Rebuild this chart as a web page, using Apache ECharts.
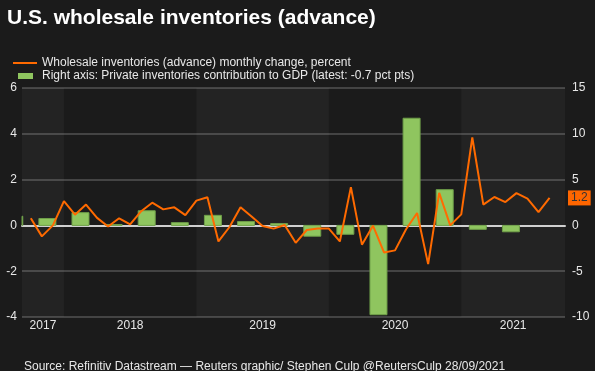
<!DOCTYPE html>
<html>
<head>
<meta charset="utf-8">
<script src="https://cdn.jsdelivr.net/npm/echarts@6/dist/echarts.min.js"></script>
<style>
html,body{margin:0;padding:0;background:#1b1b1b;}
#c{width:595px;height:371px;}
</style>
</head>
<body>
<div id="c"></div>
<script>
// ---- data ----
const months = [
  '2017-09','2017-10','2017-11','2017-12',
  '2018-01','2018-02','2018-03','2018-04','2018-05','2018-06','2018-07','2018-08','2018-09','2018-10','2018-11','2018-12',
  '2019-01','2019-02','2019-03','2019-04','2019-05','2019-06','2019-07','2019-08','2019-09','2019-10','2019-11','2019-12',
  '2020-01','2020-02','2020-03','2020-04','2020-05','2020-06','2020-07','2020-08','2020-09','2020-10','2020-11','2020-12',
  '2021-01','2021-02','2021-03','2021-04','2021-05','2021-06','2021-07','2021-08'
];
const wholesaleChange = [
  0.31, -0.48, 0.00, 1.06,
  0.47, 0.91, 0.33, -0.05, 0.31, 0.04, 0.62, 0.99, 0.70, 0.79, 0.45, 1.08,
  1.23, -0.70, -0.07, 0.79, 0.39, -0.03, -0.14, 0.02, -0.76, -0.20, -0.14, -0.14,
  -0.70, 1.67, -0.84, -0.01, -1.18, -1.09, -0.17, 0.54, -1.69, 1.42, 0.00, 0.48,
  3.84, 0.91, 1.24, 1.02, 1.41, 1.17, 0.58, 1.20
];
const quarters = [
  '2017Q3','2017Q4','2018Q1','2018Q2','2018Q3','2018Q4','2019Q1','2019Q2',
  '2019Q3','2019Q4','2020Q1','2020Q2','2020Q3','2020Q4','2021Q1','2021Q2'
];
const gdpContribution = [
  1.0, 0.75, 1.39, 0.1, 1.6, 0.3, 1.1, 0.42,
  0.2, -1.18, -0.97, -9.75, 11.7, 3.9, -0.43, -0.7
];
const years = ['2017','2018','2019','2020','2021'];
const leftTicks = {min: -4, max: 6, interval: 2};
const rightTicks = {min: -10, max: 15, interval: 5};

// ---- helpers: month coordinate (months since Jan 1 2017) ----
function monthEnd(ym){ const [y,m] = ym.split('-').map(Number); return (y-2017)*12 + m; }
function quarterMid(q){ const y = +q.slice(0,4), n = +q.slice(5); return (y-2017)*12 + (n-1)*3 + 1.5; }
function yearStart(y){ return (+y-2017)*12; }

const xMin = 8.2, xMax = 57.4;
const BAR_W = 17;

const lineData = months.map((m,i)=>[monthEnd(m), wholesaleChange[i]]);
const barData = quarters.map((q,i)=>[quarterMid(q), gdpContribution[i]]);

const bands = years.map((y,i)=>{
  const s = Math.max(yearStart(y), xMin);
  const e = Math.min(yearStart(y)+12, xMax);
  return [
    {name: y, xAxis: s, itemStyle: {color: i%2===0 ? 'rgba(255,255,255,0.035)' : 'rgba(0,0,0,0)'}},
    {xAxis: e}
  ];
});

const txt = '#e8e8e8';
const font = 'Liberation Sans, Arial, sans-serif';
const LINE_NAME = 'Wholesale inventories (advance) monthly change, percent';
const BAR_NAME = 'Right axis: Private inventories contribution to GDP (latest: -0.7 pct pts)';

const chart = echarts.init(document.getElementById('c'), null, {renderer:'canvas'});
chart.setOption({
  backgroundColor: '#1b1b1b',
  animation: false,
  textStyle: {fontFamily: font},
  title: [{
    text: 'U.S. wholesale inventories (advance)',
    left: 7, top: 8, padding: 0,
    textStyle: {color: '#ffffff', fontSize: 21, fontWeight: 'bold', fontFamily: font}
  },{
    text: 'Source: Refinitiv Datastream — Reuters graphic/ Stephen Culp @ReutersCulp 28/09/2021',
    left: 24, top: 361, padding: 0,
    textStyle: {color: txt, fontSize: 12, fontWeight: 'normal', fontFamily: font}
  }],
  legend: [{
    data: [{name: LINE_NAME, icon: 'rect'}],
    left: 13, top: 57, padding: 0,
    itemWidth: 24, itemHeight: 2,
    textStyle: {color: txt, fontSize: 12, fontFamily: font}
  },{
    data: [{name: BAR_NAME, icon: 'rect', itemStyle: {color: '#8fc55f', borderWidth: 0}}],
    left: 18, top: 70, padding: 0,
    itemWidth: 15, itemHeight: 6,
    textStyle: {color: txt, fontSize: 12, fontFamily: font, padding: [0,0,0,4]}
  }],
  grid: {left: 22, right: 30, top: 88, bottom: 54},
  xAxis: {
    type: 'value', min: xMin, max: xMax,
    axisLabel: {show: false}, axisTick: {show: false}, splitLine: {show: false},
    axisLine: {show: true, onZero: true, lineStyle: {color: '#cfcfcf', width: 2}}
  },
  yAxis: [{
    type: 'value', min: leftTicks.min, max: leftTicks.max, interval: leftTicks.interval,
    axisLine: {show: false}, axisTick: {show: false},
    axisLabel: {color: txt, fontSize: 12, margin: 5, fontFamily: font},
    splitLine: {lineStyle: {color: '#444444', width: 2}}
  },{
    type: 'value', min: rightTicks.min, max: rightTicks.max, interval: rightTicks.interval,
    axisLine: {show: false}, axisTick: {show: false},
    axisLabel: {color: txt, fontSize: 12, margin: 7, fontFamily: font},
    splitLine: {show: false}
  }],
  series: [{
    name: BAR_NAME,
    type: 'custom', yAxisIndex: 1, data: barData,
    encode: {x: 0, y: 1},
    itemStyle: {color: '#8fc55f', borderColor: '#6f9f49', borderWidth: 1},
    z: 2,
    renderItem: function(params, api){
      const base = api.coord([api.value(0), 0]);
      const tip = api.coord([api.value(0), api.value(1)]);
      const cs = params.coordSys;
      const rect = echarts.graphic.clipRectByRect({
        x: base[0] - BAR_W/2, y: Math.min(base[1], tip[1]),
        width: BAR_W, height: Math.abs(tip[1] - base[1])
      }, {x: cs.x, y: cs.y, width: cs.width, height: cs.height});
      if (!rect) return null;
      return {type: 'rect', shape: rect, style: api.style()};
    }
  },{
    name: LINE_NAME,
    type: 'line', yAxisIndex: 0, data: lineData, clip: false,
    symbol: 'none', lineStyle: {color: '#ff6a00', width: 2}, itemStyle: {color: '#ff6a00'},
    z: 3,
    markArea: {
      silent: true,
      label: {show: true, position: 'bottom', distance: 3, color: txt, fontSize: 12, fontFamily: font, formatter: '{b}'},
      data: bands
    },
    markLine: {
      silent: true, symbol: 'none',
      lineStyle: {color: 'rgba(0,0,0,0)', width: 0.01},
      label: {show: true, position: 'end', distance: 3, formatter: p => p.value.toFixed(1),
        backgroundColor: '#ff6600', color: '#333333', padding: [2,3,1,3], fontSize: 12, fontFamily: font},
      data: [{yAxis: wholesaleChange[wholesaleChange.length-1]}]
    }
  }]
});
</script>
</body>
</html>
